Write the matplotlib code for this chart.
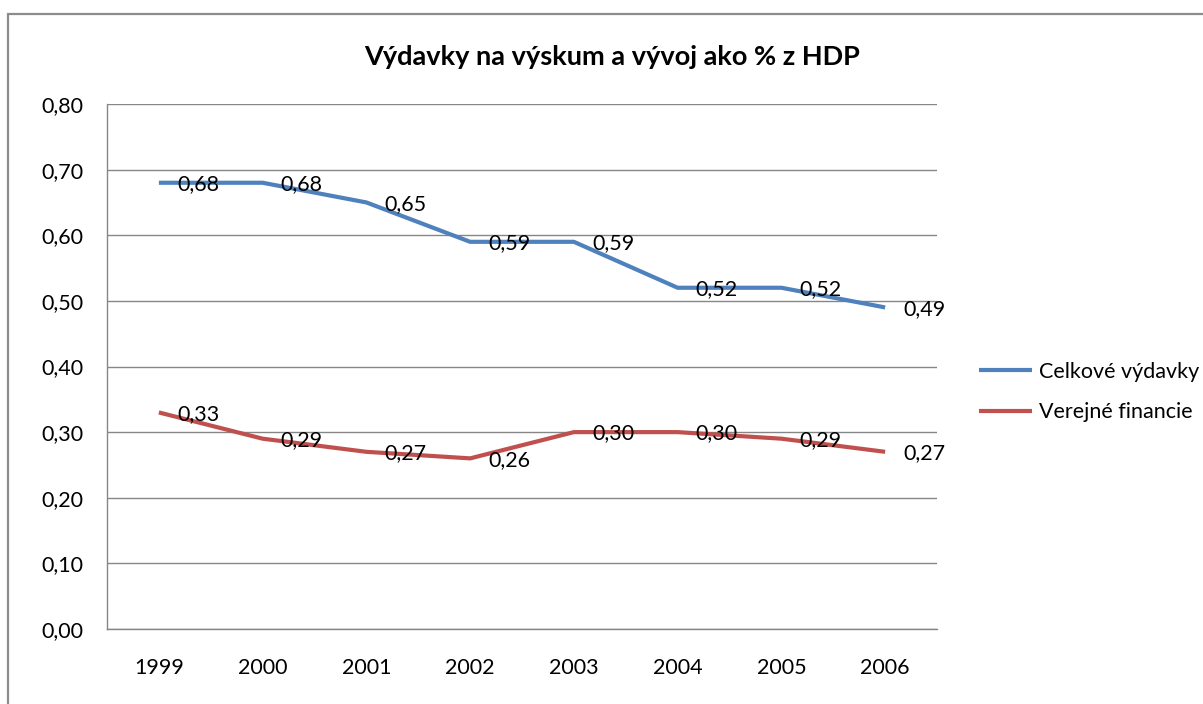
import matplotlib.pyplot as plt
from matplotlib.patches import Rectangle
from matplotlib.ticker import FuncFormatter

years = ['1999', '2000', '2001', '2002', '2003', '2004', '2005', '2006']
celkove = [0.68, 0.68, 0.65, 0.59, 0.59, 0.52, 0.52, 0.49]
verejne = [0.33, 0.29, 0.27, 0.26, 0.30, 0.30, 0.29, 0.27]
yticks = [0.0, 0.1, 0.2, 0.3, 0.4, 0.5, 0.6, 0.7, 0.8]

plt.rcParams['font.family'] = ['Lato', 'DejaVu Sans']
FS = 15.5

W, H = 1203, 704
fig = plt.figure(figsize=(W / 100, H / 100), dpi=100)
fig.patch.set_facecolor('white')

# outer chart frame (runs off right and bottom edge)
top = 1 - 14 / H
fig.patches.append(Rectangle((8 / W, -0.2), 1.3, top + 0.2, transform=fig.transFigure,
                             fill=False, edgecolor='#8c8c8c', lw=1.6))

ax = fig.add_axes([107 / W, 1 - 629 / H, (937 - 107) / W, (629 - 104) / H])
x = list(range(len(years)))

ax.plot(x, celkove, color='#4F81BD', lw=3, label='Celkové výdavky', solid_capstyle='butt')
ax.plot(x, verejne, color='#C0504D', lw=3, label='Verejné financie', solid_capstyle='butt')

for series in (celkove, verejne):
    for xi, v in zip(x, series):
        ax.annotate(f'{v:.2f}'.replace('.', ','), (xi, v), xytext=(13, -1),
                    textcoords='offset points', ha='left', va='center', fontsize=FS, color='black')

ax.set_xlim(-0.5, len(years) - 0.5)
ax.set_ylim(0, 0.8)
ax.set_xticks(x)
ax.set_xticklabels(years)
ax.set_yticks(yticks)
ax.yaxis.set_major_formatter(FuncFormatter(lambda v, p: f'{v:.2f}'.replace('.', ',')))
ax.tick_params(axis='both', length=0, labelsize=FS)
ax.tick_params(axis='y', pad=17)
ax.tick_params(axis='x', pad=21)
ax.grid(axis='y', color='#868686', lw=1)
ax.set_axisbelow(True)
for s in ('top', 'right'):
    ax.spines[s].set_visible(False)
for s in ('left', 'bottom'):
    ax.spines[s].set_color('#868686')
    ax.spines[s].set_linewidth(1)

fig.text(612 / W, 1 - 57 / H, 'Výdavky na výskum a vývoj ako % z HDP', ha='center', va='center',
         fontsize=19.5, fontweight='bold')

fig.legend(loc='center left', bbox_to_anchor=(970 / W, 1 - 392 / H), frameon=False, fontsize=FS,
           handlelength=2.5, handletextpad=0.3, labelspacing=0.95, borderaxespad=0)

fig.savefig('out.png', dpi=100)
